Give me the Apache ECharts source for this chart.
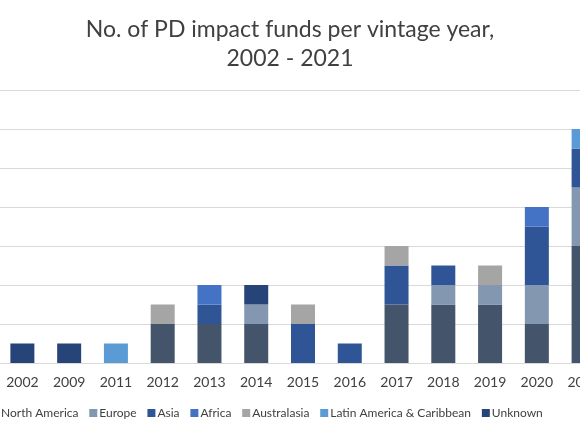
<!DOCTYPE html>
<html>
<head>
<meta charset="utf-8">
<script src="https://cdn.jsdelivr.net/npm/echarts@6/dist/echarts.min.js"></script>
<style>
html, body { margin: 0; padding: 0; background: #fff; overflow: hidden; }
/* the reference is a crop of a wider chart: widen the canvas and shift it left */
#main { width: 660px; height: 435px; margin-left: -40px; }
</style>
</head>
<body>
<div id="main"></div>
<script>
var years = ['2002', '2009', '2011', '2012', '2013', '2014', '2015', '2016', '2017', '2018', '2019', '2020', '2021'];
var northAmerica = [0, 0, 0, 2, 2, 2, 0, 0, 3, 3, 3, 2, 6];
var europe       = [0, 0, 0, 0, 0, 1, 0, 0, 0, 1, 1, 2, 3];
var asia         = [0, 0, 0, 0, 1, 0, 2, 1, 2, 1, 0, 3, 2];
var africa       = [0, 0, 0, 0, 1, 0, 0, 0, 0, 0, 0, 1, 0];
var australasia  = [0, 0, 0, 1, 0, 0, 1, 0, 1, 0, 1, 0, 0];
var latinAmerica = [0, 0, 1, 0, 0, 0, 0, 0, 0, 0, 0, 0, 1];
var unknown      = [1, 1, 0, 0, 0, 1, 0, 0, 0, 0, 0, 0, 0];

var seriesDefs = [
    ['North America', northAmerica, '#44546A'],
    ['Europe', europe, '#8497B0'],
    ['Asia', asia, '#2F5597'],
    ['Africa', africa, '#4472C4'],
    ['Australasia', australasia, '#A5A5A5'],
    ['Latin America & Caribbean', latinAmerica, '#5B9BD5'],
    ['Unknown', unknown, '#264478']
];

var myChart = echarts.init(document.getElementById('main'));
var option = {
    animation: false,
    textStyle: { fontFamily: 'Lato' },
    title: {
        text: 'No. of PD impact funds per vintage year,\n2002 - 2021',
        left: 'center',
        top: 10,
        textStyle: {
            fontFamily: 'Lato',
            fontSize: 23,
            fontWeight: 'normal',
            color: '#404040',
            lineHeight: 29
        }
    },
    legend: {
        left: 31,
        top: 407,
        padding: 0,
        itemWidth: 8,
        itemHeight: 8,
        itemGap: 10.8,
        icon: 'rect',
        textStyle: { fontFamily: 'Lato', fontSize: 12, color: '#404040', padding: [0, 0, 0, -3] },
        data: seriesDefs.map(function (d) { return d[0]; })
    },
    grid: {
        left: 39,
        right: 13,
        top: 90,
        bottom: 72
    },
    xAxis: {
        type: 'category',
        data: years,
        axisTick: { show: false },
        axisLine: { lineStyle: { color: '#D9D9D9' } },
        axisLabel: { fontFamily: 'Lato', fontSize: 14, color: '#404040', margin: 12 }
    },
    yAxis: {
        type: 'value',
        min: 0,
        max: 14,
        interval: 2,
        axisLabel: { show: false },
        splitLine: { lineStyle: { color: '#D9D9D9' } }
    },
    series: seriesDefs.map(function (d) {
        return {
            name: d[0],
            type: 'bar',
            stack: 'total',
            barWidth: 24,
            itemStyle: { color: d[2] },
            data: d[1].map(function (v) { return v === 0 ? '-' : v; })
        };
    })
};
myChart.setOption(option);
</script>
</body>
</html>
